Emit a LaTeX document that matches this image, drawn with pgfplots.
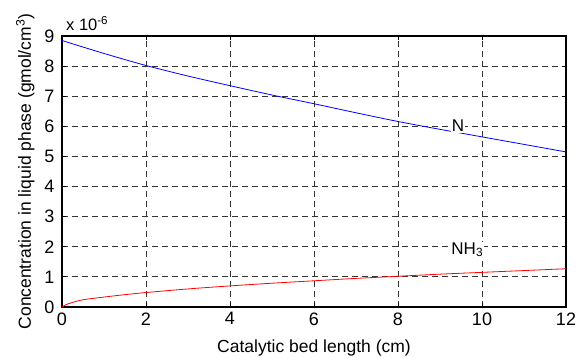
\documentclass[border=0pt]{standalone}
\usepackage{fontspec}
\setmainfont{Liberation Sans}
\usepackage{pgfplots}
\pgfplotsset{compat=1.18}
\begin{document}
\begin{tikzpicture}
\begin{axis}[
  scale only axis,
  width=504pt, height=271pt,
  xmin=0, xmax=12, ymin=0, ymax=9,
  xtick={0,2,...,12}, ytick={0,1,...,9},
  grid=major,
  major grid style={black!80, dash pattern=on 6pt off 4pt, line width=0.9pt},
  axis line style={black, line width=1.3pt},
  tick align=inside,
  major tick length=4pt,
  tick style={black, line width=0.8pt},
  xtick pos=both, ytick pos=both,
  /pgf/number format/assume math mode=true,
  ticklabel style={font=\fontsize{18}{20}\selectfont},
  yticklabel style={xshift=-4pt},
  xticklabel style={yshift=-2pt},
  xlabel={Catalytic bed length (cm)},
  ylabel={Concentration in liquid phase (gmol/cm\textsuperscript{3})},
  label style={font=\fontsize{17.5}{19}\selectfont},
  xlabel style={yshift=-8pt},
  ylabel style={yshift=3pt},
  clip=false,
]
\addplot[blue, line width=0.8pt, smooth] coordinates {
(0,8.85) (1,8.42) (2,8.02) (3,7.67) (4,7.35) (5,7.04) (6,6.75) (7,6.45) (8,6.16) (9,5.90) (10,5.65) (11,5.40) (12,5.15)
};
\addplot[red, line width=0.8pt, smooth] coordinates {
(0,0) (0.1,0.08) (0.25,0.15) (0.5,0.24) (1,0.33) (1.5,0.41) (2,0.48) (3,0.60) (4,0.70) (5,0.79) (6,0.87) (7,0.95) (8,1.02) (9,1.09) (10,1.15) (11,1.21) (12,1.27)
};
\node[font=\fontsize{17}{19}\selectfont, fill=white, inner sep=1pt] at (axis cs:9.43,6.01) {N};
\node[font=\fontsize{17}{19}\selectfont, fill=white, inner sep=1pt] at (axis cs:9.65,1.9) {NH\textsubscript{3}};
\node[font=\fontsize{16.5}{18}\selectfont, anchor=south west, inner sep=0pt] at ([xshift=4pt,yshift=5pt]rel axis cs:0,1) {x 10\textsuperscript{-6}};
\end{axis}
\pgfresetboundingbox
\path ([xshift=-62pt,yshift=-51pt]current axis.south west) rectangle ([xshift=12pt,yshift=36pt]current axis.north east);
\end{tikzpicture}
\end{document}
